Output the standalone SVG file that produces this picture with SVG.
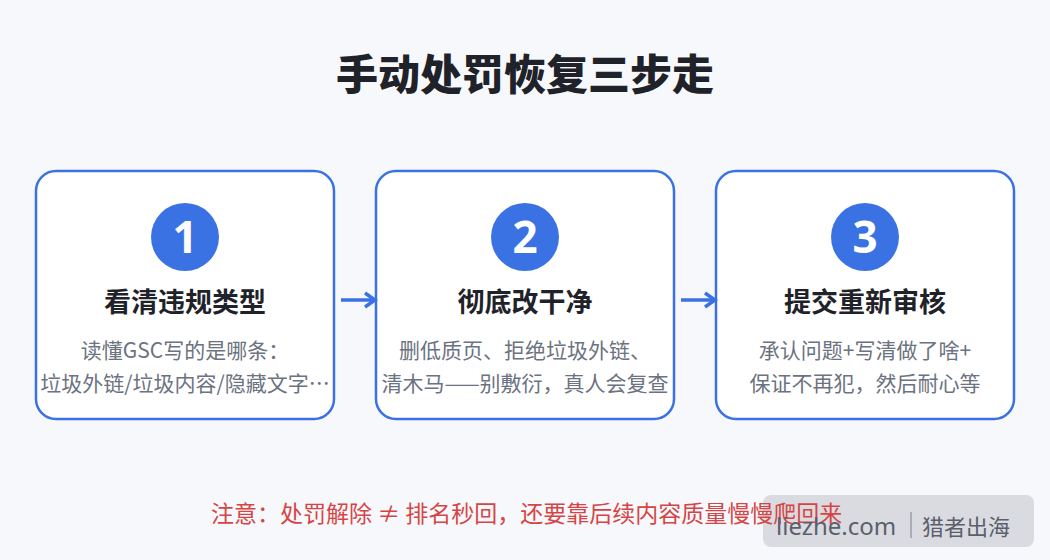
<svg xmlns="http://www.w3.org/2000/svg" width="1050" height="560" viewBox="0 0 1050 560">
<defs>
<style>
.box{fill:#ffffff;stroke:#3a72e3;stroke-width:2.5}
.num{fill:#3a72e3}
.numt{font-family:"Noto Sans","Noto Sans CJK SC",sans-serif;font-weight:700;font-size:44px;fill:#ffffff;text-anchor:middle}
.ttl{font-family:"Noto Sans CJK SC",sans-serif;font-weight:700;font-size:27px;fill:#1f2329;text-anchor:middle}
.dsc{font-family:"Noto Sans CJK SC",sans-serif;font-size:21px;fill:#6b7280;text-anchor:middle}
.conn{stroke:#3a72e3;stroke-width:3.5;fill:none}
</style>
<marker id="ah" viewBox="0 0 16 18" refX="13" refY="9" markerWidth="16" markerHeight="18" orient="auto" markerUnits="userSpaceOnUse">
<path d="M3,2 L13,9 L3,16" fill="none" stroke="#3a72e3" stroke-width="3.5" stroke-linejoin="miter"/>
</marker>
</defs>
<rect width="1050" height="560" fill="#f7f8fc"/>
<text x="525" y="90" text-anchor="middle" font-family="Noto Sans CJK SC, sans-serif" font-weight="900" font-size="42" fill="#1f2329">手动处罚恢复三步走</text>

<g id="step1">
<rect class="box" x="36" y="171" width="298" height="248" rx="20"/>
<circle class="num" cx="185" cy="237" r="34"/>
<text class="numt" x="185" y="253">1</text>
<text class="ttl" x="185" y="312">看清违规类型</text>
<text class="dsc" x="185" y="358">读懂GSC写的是哪条：</text>
<text class="dsc" x="185" y="391">垃圾外链/垃圾内容/隐藏文字…</text>
</g>
<g id="step2">
<rect class="box" x="376" y="171" width="298" height="248" rx="20"/>
<circle class="num" cx="525" cy="237" r="34"/>
<text class="numt" x="525" y="253">2</text>
<text class="ttl" x="525" y="312">彻底改干净</text>
<text class="dsc" x="525" y="358">删低质页、拒绝垃圾外链、</text>
<text class="dsc" x="525" y="391">清木马——别敷衍，真人会复查</text>
</g>
<g id="step3">
<rect class="box" x="716" y="171" width="298" height="248" rx="20"/>
<circle class="num" cx="865" cy="237" r="34"/>
<text class="numt" x="865" y="253">3</text>
<text class="ttl" x="865" y="312">提交重新审核</text>
<text class="dsc" x="865" y="358">承认问题+写清做了啥+</text>
<text class="dsc" x="865" y="391">保证不再犯，然后耐心等</text>
</g>
<g id="connectors">
<line class="conn" x1="341" y1="300" x2="375" y2="300" marker-end="url(#ah)"/>
<line class="conn" x1="681" y1="300" x2="715" y2="300" marker-end="url(#ah)"/>
</g>
<rect x="763" y="495" width="271" height="52" rx="8" fill="#c9cbd3" fill-opacity="0.65"/>
<text x="211" y="522" font-family="Noto Sans CJK SC, sans-serif" font-size="23" fill="#d64545">注意：处罚解除 ≠ 排名秒回，还要靠后续内容质量慢慢爬回来</text>
<g id="watermark">
<text x="776" y="535" font-family="Noto Sans, Noto Sans CJK SC, sans-serif" font-size="24" fill="#5a5f6b">liezhe.com</text>
<line x1="911" y1="512" x2="911" y2="538" stroke="#8a8f99" stroke-width="1.2"/>
<text x="922" y="535" font-family="Noto Sans CJK SC, sans-serif" font-size="22" fill="#5a5f6b">猎者出海</text>
</g>
</svg>
